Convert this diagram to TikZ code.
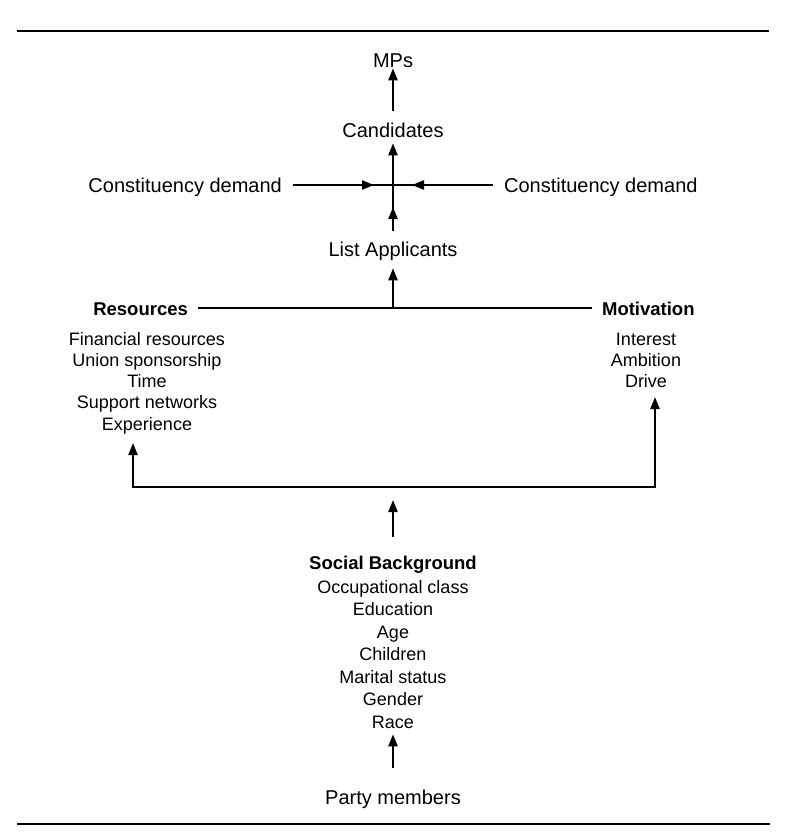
\documentclass[tikz,border=0pt]{standalone}
\usepackage{fontspec}
\setmainfont{Liberation Sans}
\usetikzlibrary{arrows.meta}
\begin{document}
\begin{tikzpicture}[x=1pt,y=-1pt,line width=2.2pt,
  txt/.style={font=\fontsize{20}{22}\selectfont,inner sep=0pt,anchor=base},
  itm/.style={font=\fontsize{18}{21}\selectfont,inner sep=0pt,anchor=base},
  hd/.style={font=\fontsize{18.5}{21}\selectfont\bfseries,inner sep=0pt},
  tip/.style={-{Triangle[length=12pt,width=9pt]}},
  rule/.style={line width=2.5pt}]
\useasboundingbox (0,0) rectangle (786,836);
% rules
\coordinate (tl) at (17,31); \coordinate (tr) at (769,31);
\coordinate (bl) at (17,824); \coordinate (br) at (770,824);
\draw[rule] (tl) -- (tr);
\draw[rule] (bl) -- (br);
% top chain
\node[txt] (mps) at (393,67) {MPs};
\node[txt] (cand) at (393,137) {Candidates};
\node[txt] (la) at (393,256) {List Applicants};
\node[txt,anchor=base east] (cl) at (283,192) {Constituency demand};
\node[txt,anchor=base west] (cr) at (503,192) {Constituency demand};
\coordinate (cross) at (393,185);
\coordinate (midtip) at (393,207);
\coordinate (ltip) at (374,185);
\coordinate (rtip) at (412,185);
\draw[tip,shorten <=10pt] (cand.north) -- (mps.south);
\draw[tip,shorten <=9pt,shorten >=5pt] (la.north) -- (cand.south);
\draw[tip,shorten <=9pt] (la.north) -- (midtip);
\draw[shorten <=10pt] (cl.east |- cross) -- (cross);
\draw[tip,shorten <=10pt] (cl.east |- cross) -- (ltip);
\draw[shorten <=10pt] (cr.west |- cross) -- (cross);
\draw[tip,shorten <=10pt] (cr.west |- cross) -- (rtip);
% resources / motivation
\node[hd,anchor=base east] (res) at (189,315) {Resources};
\node[hd,anchor=base west] (mot) at (601,315) {Motivation};
\coordinate (barmid) at (393,308);
\draw[shorten <=9pt,shorten >=9pt] (res.east |- barmid) -- (mot.west |- barmid);
\draw[tip,shorten >=7pt] (barmid) -- (la.south);
\node[itm] (r1) at (147,345) {Financial resources};
\node[itm] (r2) at (147,366.3) {Union sponsorship};
\node[itm] (r3) at (147,387.5) {Time};
\node[itm] (r4) at (147,408.8) {Support networks};
\node[itm] (r5) at (147,430) {Experience};
\node[itm] (m1) at (646,345) {Interest};
\node[itm] (m2) at (646,366.3) {Ambition};
\node[itm] (m3) at (646,387.5) {Drive};
% distribution
\coordinate (jl) at (133,487);
\coordinate (jr) at (655,487);
\coordinate (jm) at (393,487);
\coordinate (ltop) at (133,443);
\coordinate (rtop) at (655,397);
\coordinate (jmtip) at (393,500);
\draw[tip] (jm) -- (jl) -- (ltop);
\draw[tip] (jm) -- (jr) -- (rtop);
% social background
\node[hd,anchor=base] (sb) at (393,569) {Social Background};
\node[itm] (s1) at (393,593) {Occupational class};
\node[itm] (s2) at (393,615.5) {Education};
\node[itm] (s3) at (393,638) {Age};
\node[itm] (s4) at (393,660.5) {Children};
\node[itm] (s5) at (393,683) {Marital status};
\node[itm] (s6) at (393,705.5) {Gender};
\node[itm] (s7) at (393,728) {Race};
\draw[tip,shorten <=18pt] (sb.north) -- (jmtip);
\node[txt] (pm) at (393,804) {Party members};
\draw[tip,shorten <=20pt,shorten >=5pt] (pm.north) -- (s7.south);
\end{tikzpicture}
\end{document}
